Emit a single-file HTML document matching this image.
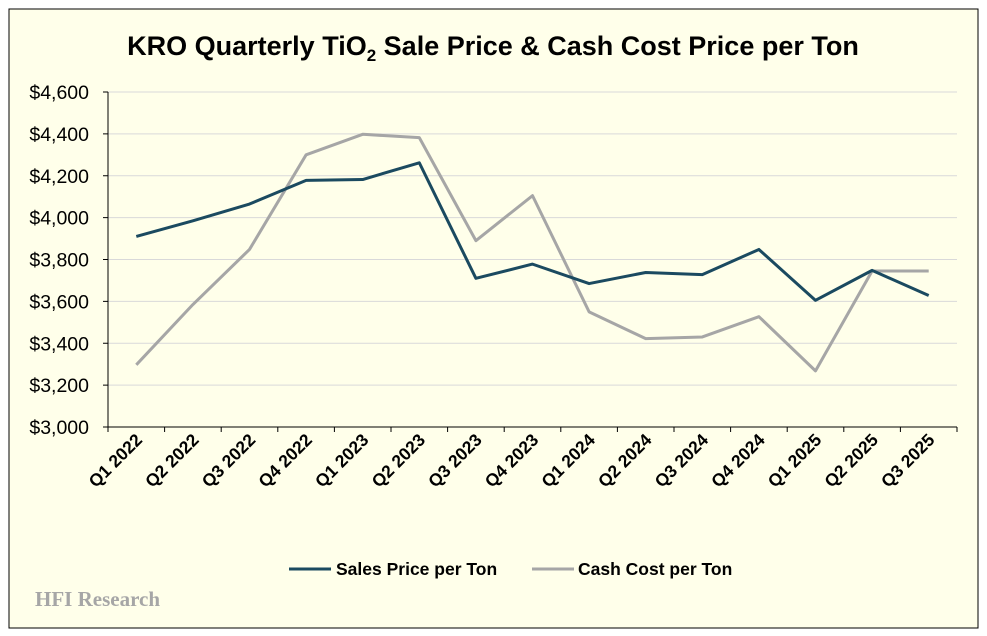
<!DOCTYPE html>
<html><head><meta charset="utf-8"><style>
body{margin:0;background:#fff;width:987px;height:636px;overflow:hidden}
svg{display:block}
text{font-family:"Liberation Sans",sans-serif}
</style></head><body>
<svg id="chart" width="987" height="636">
<rect x="9" y="9" width="969" height="619" fill="#FFFFEA" stroke="#000" stroke-width="1"/>
<text x="493" y="55" text-anchor="middle" font-size="27" font-weight="bold" fill="#000">KRO Quarterly TiO<tspan font-size="17" dy="6">2</tspan><tspan dy="-6"> Sale Price &amp; Cash Cost Price per Ton</tspan></text>
<g id="grid"></g><g id="axes"></g><g id="series"></g>
<g>
<line x1="289" y1="569" x2="331" y2="569" stroke="#1B4A60" stroke-width="3"/>
<text x="336" y="575" font-size="17.5" font-weight="bold" fill="#000">Sales Price per Ton</text>
<line x1="532" y1="569" x2="574" y2="569" stroke="#A6A6A6" stroke-width="3"/>
<text x="578" y="575" font-size="17.5" font-weight="bold" fill="#000">Cash Cost per Ton</text>
</g>
<text x="35" y="606" font-size="21" font-weight="bold" fill="#A6A6A6" style="font-family:'Liberation Serif',serif">HFI Research</text>
</svg>
<script>
const categories=["Q1 2022","Q2 2022","Q3 2022","Q4 2022","Q1 2023","Q2 2023","Q3 2023","Q4 2023","Q1 2024","Q2 2024","Q3 2024","Q4 2024","Q1 2025","Q2 2025","Q3 2025"];
const salesPrice=[3910,3985,4065,4178,4182,4262,3710,3778,3685,3738,3728,3848,3605,3748,3628];
const cashCost=[3297,3585,3848,4300,4398,4382,3890,4105,3550,3422,3430,3527,3268,3745,3745];
const yTicks=[3000,3200,3400,3600,3800,4000,4200,4400,4600];
const NS="http://www.w3.org/2000/svg";
const x0=108,x1=957,yTop=92,yBot=427,yMin=3000,yMax=4600;
const step=(x1-x0)/categories.length;
const xs=i=>x0+step*(i+0.5);
const ys=v=>yBot-(v-yMin)/(yMax-yMin)*(yBot-yTop);
function mk(tag,attrs,parent){const e=document.createElementNS(NS,tag);for(const k in attrs)e.setAttribute(k,attrs[k]);parent.appendChild(e);return e;}
const grid=document.getElementById('grid'),axes=document.getElementById('axes'),ser=document.getElementById('series');
yTicks.forEach(t=>{
 const y=ys(t);
 if(t>yMin){const g=mk('line',{x1:x0,x2:x1,y1:y,y2:y,stroke:'#D9D9D9','stroke-width':1},grid);
 
 }
 const tk=mk('line',{x1:x0-5,x2:x0,y1:y,y2:y,stroke:'#000'},axes);
 
 
 const l=mk('text',{x:89,y:y+7,'text-anchor':'end','font-size':19.5,fill:'#000'},axes);
 l.textContent='$'+t.toLocaleString('en-US');
 
 
});
const ya=mk('line',{x1:x0,x2:x0,y1:yTop,y2:yBot,stroke:'#000'},axes);


const xa=mk('line',{x1:x0,x2:x1,y1:yBot,y2:yBot,stroke:'#000'},axes);


for(let i=0;i<=categories.length;i++){const x=x0+step*i;const t=mk('line',{x1:x,x2:x,y1:yBot,y2:yBot+5,stroke:'#000'},axes);
 
 }
categories.forEach((c,i)=>{const x=xs(i)+7,y=yBot+14;
 const l=mk('text',{x:x,y:y,'text-anchor':'end','font-size':17.5,'font-weight':'bold',fill:'#000',transform:`rotate(-45 ${x} ${y})`},axes);
 l.textContent=c;
 
 });
function line(data,color,name){const p=mk('polyline',{points:data.map((v,i)=>xs(i)+','+ys(v)).join(' '),fill:'none',stroke:color,'stroke-width':3,'stroke-linejoin':'round'},ser);
 
 }
line(cashCost,'#A6A6A6','cash-cost-line');
line(salesPrice,'#1B4A60','sales-price-line');
</script>
</body></html>
